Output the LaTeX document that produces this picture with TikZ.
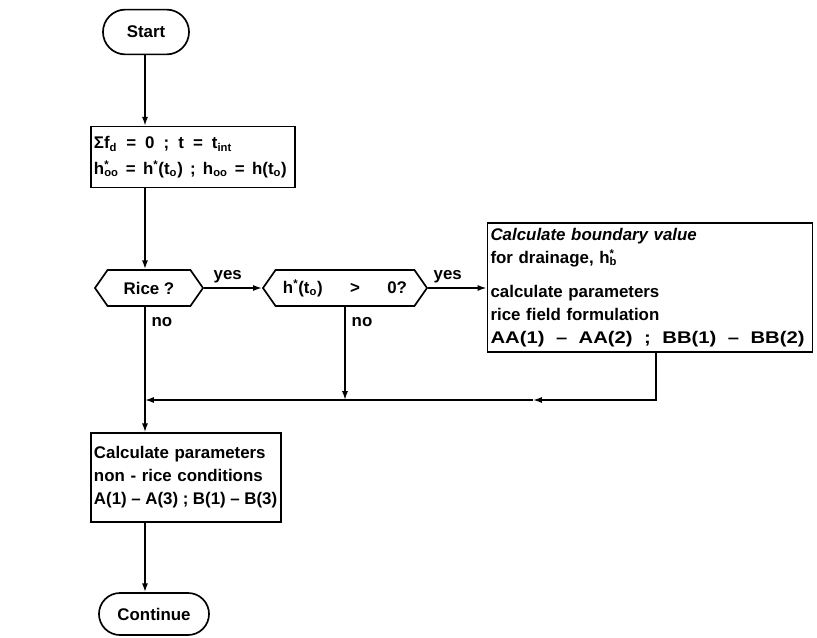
\documentclass[tikz,border=0pt]{standalone}
\usepackage{fontspec}
\setmainfont{Liberation Sans}
\usetikzlibrary{arrows.meta, positioning, shapes.misc, shapes.symbols}

% superscript stacked over subscript
\newcommand{\supsub}[2]{\makebox[0pt][l]{\textsuperscript{#1}}\textsubscript{#2}}
% formula line spread to a given width, \gap marks the stretchable gaps
\newcommand{\spread}[2]{\makebox[#1][l]{#2}}
\newcommand{\gap}{\hspace{0.2em plus 1fill}}

\begin{document}
\begin{tikzpicture}[
    x=0.025cm, y=-0.025cm,
    >={Latex[length=2.2mm, width=1.5mm]},
    every node/.style={font=\fontsize{12}{16.3}\selectfont\bfseries},
    flow/.style={line width=1.1pt},
    term/.style={draw, line width=1.2pt, rounded rectangle, inner sep=0pt},
    procbox/.style={draw, line width=1.2pt, align=left, inner xsep=0.08cm,
                    inner ysep=0pt},
    test/.style={draw, line width=1.2pt, signal, signal to=west and east,
                 signal pointer angle=110, inner xsep=2pt, inner ysep=0pt,
                 minimum height=0.9cm},
    lbl/.style={inner sep=1pt}
  ]
  \useasboundingbox (0,0) rectangle (817,638);

  \node[term, minimum width=2.15cm, minimum height=1.12cm] (start) at (146,32) {Start};
  \node[procbox, text width=4.95cm, minimum height=1.52cm] (init) at (193,157)
    {\spread{3.45cm}{Σf\textsubscript{d}\gap=\gap0\gap;\gap t\gap=\gap t\textsubscript{int}}\\[2pt]
     \spread{4.82cm}{h\supsub{*}{oo}\gap=\gap h\textsuperscript{*}(t\textsubscript{o})\gap;\gap h\textsubscript{oo}\gap=\gap h(t\textsubscript{o})}};
  \node[test, minimum width=2.7cm] (rice) at (149,288) {Rice ?};
  \node[test, minimum width=4.1cm] (cond) at (345,288)
    {\spread{3.1cm}{h\textsuperscript{*}(t\textsubscript{o})\gap>\gap0?}};
  \node[procbox, text width=7.97cm, minimum height=3.22cm] (ricebox) at (650,287.5)
    {\textit{Calculate boundary value}\\
     for drainage, h\supsub{*}{b}\\[8pt]
     calculate parameters\\
     rice field formulation\\
     {\addfontfeature{FakeStretch=1.2}\spread{7.85cm}{AA(1)\gap--\gap AA(2)\gap;\gap BB(1)\gap--\gap BB(2)}}};
  \node[procbox, text width=4.6cm, minimum height=2.22cm] (nonrice) at (186,477.5)
    {Calculate parameters\\
     non - rice conditions\\
     \spread{4.58cm}{A(1)\gap--\gap A(3)\gap;\gap B(1)\gap--\gap B(3)}};
  \node[term, minimum width=2.75cm, minimum height=1.05cm] (cont) at (154,614) {Continue};

  \coordinate (col) at (145,0);
  \coordinate (join) at (145,400);
  \coordinate (back) at (533,400);
  \coordinate (drop) at (656,0);

  \draw[flow, ->] (start.south -| col) -- (col |- init.north);
  \draw[flow, ->] (col |- init.south) -- (col |- rice.north);
  \draw[flow, ->] (rice.east) -- (cond.west);
  \draw[flow, ->] (cond.east) -- (cond.east -| ricebox.west);
  \draw[flow] (col |- rice.south) -- (join);
  \draw[flow, ->] (join) -- (col |- nonrice.north);
  \draw[flow, ->] (cond.south) -- (cond.south |- join);
  \draw[flow, ->] (drop |- ricebox.south) |- (back);
  \draw[flow, ->] (back) -- (join);
  \draw[flow, ->] (col |- nonrice.south) -- (col |- cont.north);

  \node[lbl, anchor=south west] (yes1) at (212,285) {yes};
  \node[lbl, anchor=south west] (yes2) at (432,285) {yes};
  \node[lbl, anchor=north west] (no1) at (150,316) {no};
  \node[lbl, anchor=north west] (no2) at (350,316) {no};
\end{tikzpicture}
\end{document}
